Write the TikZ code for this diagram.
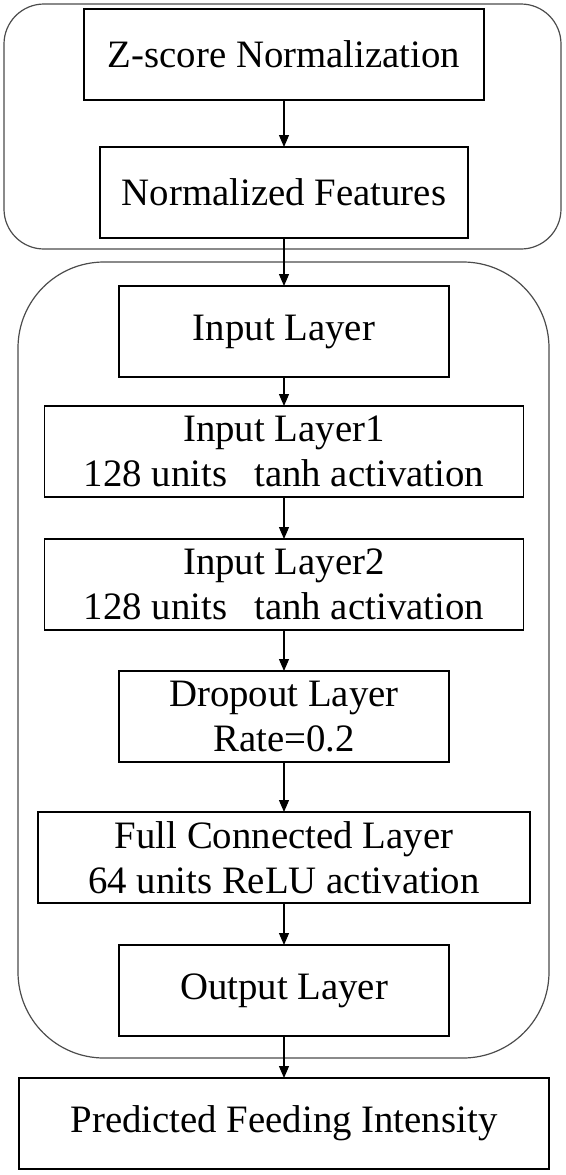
\documentclass[tikz,border=0pt]{standalone}
\usepackage{fontspec}
\setmainfont{Liberation Serif}
\usepackage{tikz}
\usetikzlibrary{arrows.meta,positioning}

\begin{document}
\begin{tikzpicture}[
    x=0.5pt, y=-0.5pt,
    font=\fontsize{19.4}{22.5}\selectfont,
    layer/.style={rectangle, draw, line width=0.7pt, minimum height=45.5pt, inner sep=0pt, outer sep=0pt, align=center},
    group/.style={draw=black!70, line width=0.6pt},
    arrow/.style={-{Triangle[length=6pt,width=5pt]}, line width=0.6pt}
]
    \useasboundingbox (0,0) rectangle (566,1175);

    % Preprocessing block
    \draw[group, rounded corners=20pt] (4,4) rectangle (561,249);
    \node[layer, minimum width=200pt] (znorm) at (284,54.5) {Z-score Normalization};
    \node[layer, minimum width=184pt, below=23.5pt of znorm] (normfeat) {Normalized Features};

    % Network block
    \draw[group, rounded corners=43pt] (18,262) rectangle (549,1058);
    \node[layer, minimum width=165pt, below=24pt of normfeat] (inlayer) {Input Layer};
    \node[layer, minimum width=239.5pt, below=14.5pt of inlayer] (hidden1) {Input Layer1\\128 units\hspace{0.7em}tanh activation};
    \node[layer, minimum width=239.5pt, below=21pt of hidden1] (hidden2) {Input Layer2\\128 units\hspace{0.7em}tanh activation};
    \node[layer, minimum width=165pt, below=20.5pt of hidden2] (dropout) {Dropout Layer\\Rate=0.2};
    \node[layer, minimum width=246pt, below=25pt of dropout] (dense) {Full Connected Layer\\64 units ReLU activation};
    \node[layer, minimum width=165pt, below=21pt of dense] (outlayer) {Output Layer};

    % Result
    \node[layer, minimum width=265pt, below=21pt of outlayer] (pred) {Predicted Feeding Intensity};

    \draw[arrow] (znorm) -- (normfeat);
    \draw[arrow] (normfeat) -- (inlayer);
    \draw[arrow] (inlayer) -- (hidden1);
    \draw[arrow] (hidden1) -- (hidden2);
    \draw[arrow] (hidden2) -- (dropout);
    \draw[arrow] (dropout) -- (dense);
    \draw[arrow] (dense) -- (outlayer);
    \draw[arrow] (outlayer) -- (pred);
\end{tikzpicture}
\end{document}
